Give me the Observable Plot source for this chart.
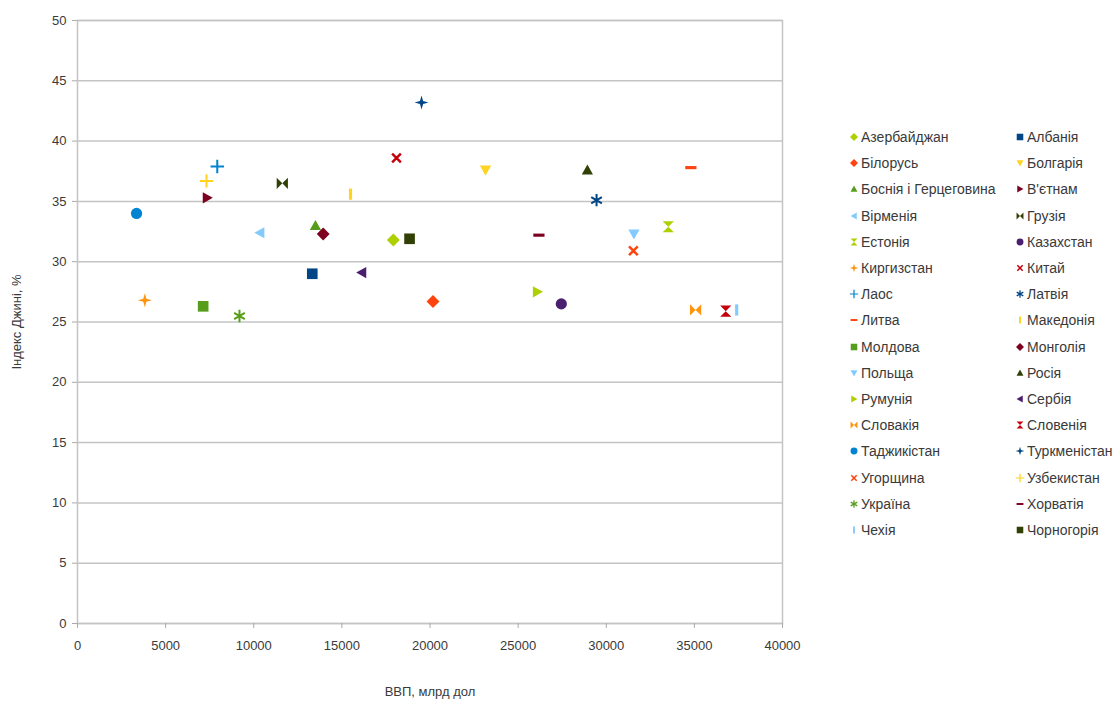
<!DOCTYPE html>
<html>
<head>
<meta charset="utf-8">
<script src="https://cdn.jsdelivr.net/npm/d3@7"></script>
<script src="https://cdn.jsdelivr.net/npm/@observablehq/plot@0.6"></script>
<style>
  html, body { margin: 0; padding: 0; background: #fff; }
  #wrap { position: relative; width: 1116px; height: 719px; overflow: hidden; font-family: "Liberation Sans", Arial, sans-serif; }
  #legend { position: absolute; left: 848px; top: 124px; }
  #legend .lg-swatches { display: grid !important; grid-template-columns: 166px 166px; grid-auto-rows: 26.2px; align-items: center; font-family: "Liberation Sans", Arial, sans-serif; font-size: 14px; color: #3a3a3a; margin: 0; min-height: 0; }
  #legend .lg-swatch { display: flex !important; align-items: center; margin: 0 !important; white-space: nowrap; }
  #legend .lg-swatch > svg { margin-right: 1px !important; }
</style>
</head>
<body>
<div id="wrap">
  <div id="chart"></div>
  <div id="legend"></div>
</div>
<script>
// ---- data (legend order, row by row) ----
const countries = [
  "Азербайджан", "Албанія",
  "Білорусь", "Болгарія",
  "Боснія і Герцеговина", "В'єтнам",
  "Вірменія", "Грузія",
  "Естонія", "Казахстан",
  "Киргизстан", "Китай",
  "Лаос", "Латвія",
  "Литва", "Македонія",
  "Молдова", "Монголія",
  "Польща", "Росія",
  "Румунія", "Сербія",
  "Словакія", "Словенія",
  "Таджикістан", "Туркменістан",
  "Угорщина", "Узбекистан",
  "Україна", "Хорватія",
  "Чехія", "Чорногорія"
];
// ВВП (x)
const gdp = [
  17920, 13320,
  20170, 23150,
  13500, 7360,
  10350, 11620,
  33520, 27450,
  3820, 18100,
  7930, 29450,
  34800, 15490,
  7130, 13940,
  31570, 28930,
  26090, 16130,
  35070, 36780,
  3350, 19520,
  31540, 7320,
  9190, 26180,
  37400, 18840
];
// Індекс Джині (y)
const gini = [
  31.8, 29.0,
  26.7, 37.6,
  33.0, 35.3,
  32.4, 36.5,
  32.9, 26.5,
  26.8, 38.6,
  37.9, 35.1,
  37.8, 35.6,
  26.3, 32.3,
  32.3, 37.6,
  27.5, 29.1,
  26.0, 25.9,
  34.0, 43.2,
  30.9, 36.7,
  25.5, 32.2,
  26.0, 31.9
];
const xTicks = [0, 5000, 10000, 15000, 20000, 25000, 30000, 35000, 40000];
const yTicks = [0, 5, 10, 15, 20, 25, 30, 35, 40, 45, 50];

// ---- styles ----
const colorRange = [
  "#aecf00", "#004586", "#ff420e", "#ffd320", "#579d1c", "#7e0021", "#83caff", "#314004",
  "#aecf00", "#4b1f6f", "#ff950e", "#c5000b", "#0084d1", "#004586", "#ff420e", "#ffd320",
  "#579d1c", "#7e0021", "#83caff", "#314004", "#aecf00", "#4b1f6f", "#ff950e", "#c5000b",
  "#0084d1", "#004586", "#ff420e", "#ffd320", "#579d1c", "#7e0021", "#83caff", "#314004"
];

function poly(ctx, pts) {
  ctx.moveTo(pts[0][0], pts[0][1]);
  for (let i = 1; i < pts.length; i++) ctx.lineTo(pts[i][0], pts[i][1]);
  ctx.closePath();
}
function rot(pts, a) {
  const c = Math.cos(a), s = Math.sin(a);
  return pts.map(([x, y]) => [x * c - y * s, x * s + y * c]);
}
function bar(ctx, len, t, a) {
  poly(ctx, rot([[-len, -t], [len, -t], [len, t], [-len, t]], a));
}
const R = (size) => Math.sqrt(size / Math.PI);
const sym = {
  square: {draw(ctx, size) { const h = R(size) * 0.95; ctx.rect(-h, -h, 2 * h, 2 * h); }},
  diamond: {draw(ctx, size) { const h = R(size) * 1.15; poly(ctx, [[0, -h], [h, 0], [0, h], [-h, 0]]); }},
  triDown: {draw(ctx, size) { const h = R(size); poly(ctx, [[-h, -h * 0.8], [h, -h * 0.8], [0, h]]); }},
  triUp: {draw(ctx, size) { const h = R(size); poly(ctx, [[-h, h * 0.8], [0, -h], [h, h * 0.8]]); }},
  triRight: {draw(ctx, size) { const h = R(size); poly(ctx, [[-h * 0.8, -h], [h, 0], [-h * 0.8, h]]); }},
  triLeft: {draw(ctx, size) { const h = R(size); poly(ctx, [[h * 0.8, -h], [h * 0.8, h], [-h, 0]]); }},
  bowtie: {draw(ctx, size) { const h = R(size); poly(ctx, [[-h, -h], [0, 0], [-h, h]]); poly(ctx, [[h, -h], [h, h], [0, 0]]); }},
  hourglass: {draw(ctx, size) { const h = R(size); poly(ctx, [[-h, -h], [h, -h], [0, 0]]); poly(ctx, [[-h, h], [0, 0], [h, h]]); }},
  circle: {draw(ctx, size) { const r = R(size); ctx.moveTo(r, 0); ctx.arc(0, 0, r, 0, 2 * Math.PI); }},
  star4: {draw(ctx, size) { const h = R(size) * 1.25, w = h * 0.22; poly(ctx, [[0, -h], [w, -w], [h, 0], [w, w], [0, h], [-w, w], [-h, 0], [-w, -w]]); }},
  times: {draw(ctx, size) { const r = R(size); bar(ctx, r * 1.1, r * 0.22, Math.PI / 4); bar(ctx, r * 1.1, r * 0.22, -Math.PI / 4); }},
  plus: {draw(ctx, size) { const r = R(size); bar(ctx, r * 1.2, r * 0.18, 0); bar(ctx, r * 1.2, r * 0.18, Math.PI / 2); }},
  asterisk: {draw(ctx, size) { const r = R(size); bar(ctx, r * 1.1, r * 0.18, Math.PI / 2); bar(ctx, r * 1.1, r * 0.18, Math.PI / 6); bar(ctx, r * 1.1, r * 0.18, -Math.PI / 6); }},
  hbar: {draw(ctx, size) { const r = R(size); ctx.rect(-r, -r * 0.28, 2 * r, r * 0.56); }},
  vbar: {draw(ctx, size) { const r = R(size); ctx.rect(-r * 0.28, -r, r * 0.56, 2 * r); }}
};
const symbolRange = [
  sym.diamond, sym.square, sym.diamond, sym.triDown, sym.triUp, sym.triRight, sym.triLeft, sym.bowtie,
  sym.hourglass, sym.circle, sym.star4, sym.times, sym.plus, sym.asterisk, sym.hbar, sym.vbar,
  sym.square, sym.diamond, sym.triDown, sym.triUp, sym.triRight, sym.triLeft, sym.bowtie, sym.hourglass,
  sym.circle, sym.star4, sym.times, sym.plus, sym.asterisk, sym.hbar, sym.vbar, sym.square
];

const data = countries.map((c, i) => ({country: c, gdp: gdp[i], gini: gini[i]}));

const textColor = "#3a3a3a";
const plot = Plot.plot({
  width: 1116,
  height: 719,
  marginLeft: 77,
  marginRight: 334,
  marginTop: 20,
  marginBottom: 96,
  style: {fontFamily: "'Liberation Sans', Arial, sans-serif", fontSize: "13px", color: textColor, background: "#fff", overflow: "visible"},
  x: {domain: [0, 40000]},
  y: {domain: [0, 50]},
  color: {domain: countries, range: colorRange},
  symbol: {domain: countries, range: symbolRange},
  marks: [
    Plot.gridY(yTicks, {stroke: "#c4c4c4", strokeOpacity: 1, strokeWidth: 1.5}),
    Plot.frame({stroke: "#c4c4c4", strokeWidth: 1.5}),
    Plot.axisX(xTicks, {
      tickSize: 5, tickPadding: 12, stroke: "#aaa", fill: textColor,
      tickFormat: (d) => String(d), fontSize: 13,
      label: "ВВП, млрд дол", labelAnchor: "center", labelOffset: 72, labelArrow: "none"
    }),
    Plot.axisY(yTicks, {
      tickSize: 5, tickPadding: 6, stroke: "#aaa", fill: textColor,
      tickFormat: (d) => String(d), fontSize: 13,
      label: "Індекс Джині, %", labelAnchor: "center", labelOffset: 66, labelArrow: "none"
    }),
    Plot.dot(data, {x: "gdp", y: "gini", fill: "country", symbol: "country", r: 5.6, stroke: "none"})
  ]
});
document.getElementById("chart").appendChild(plot);

const legend = plot.legend("symbol", {className: "lg", swatchSize: 12, r: 4.6, tickFormat: (d) => d});
if (legend) document.getElementById("legend").appendChild(legend);
</script>
</body>
</html>
